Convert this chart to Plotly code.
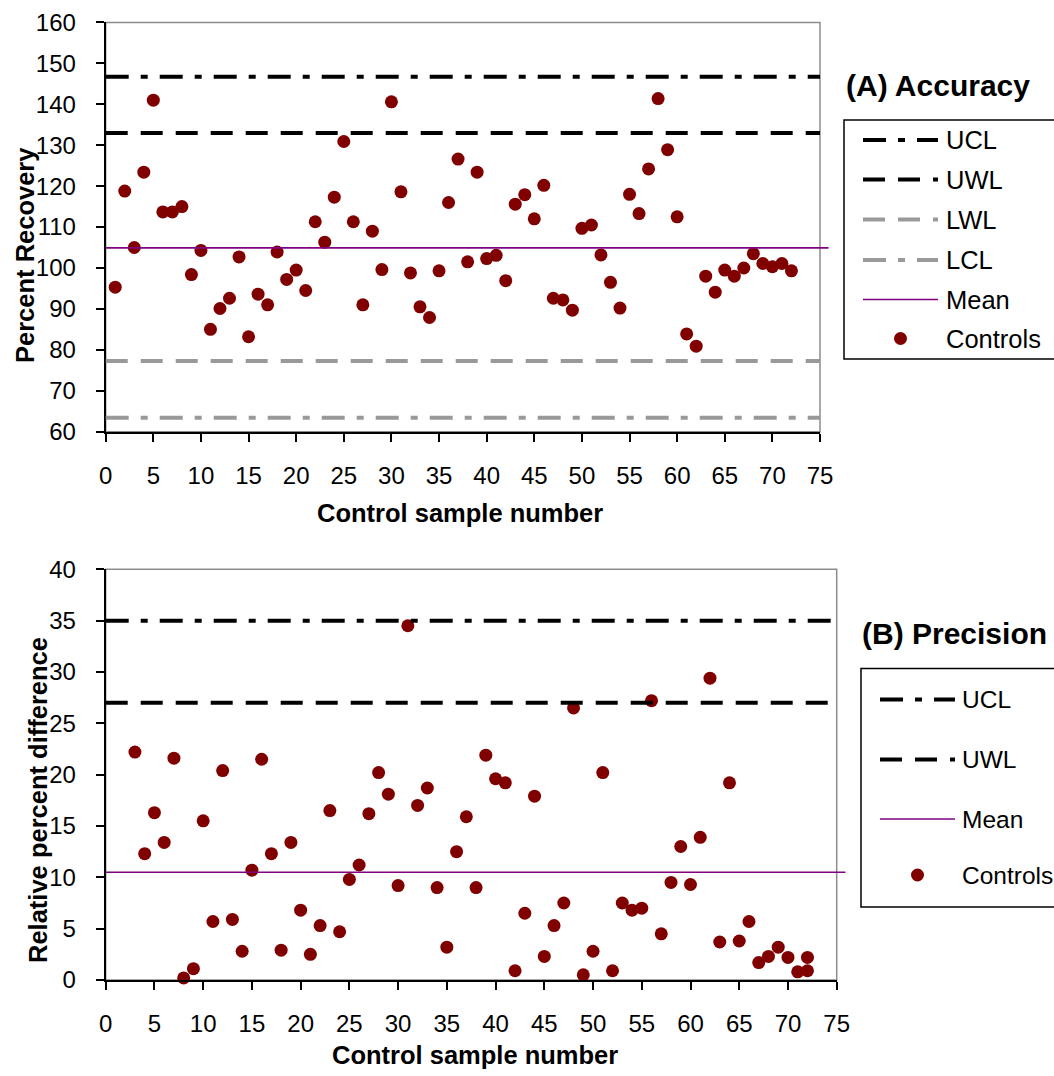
import plotly.graph_objects as go

# ---------------- data ----------------
# (A) Accuracy: percent recovery of each control sample
acc_sample = list(range(1, 73))
acc_recovery = [95.3, 118.8, 105.0, 123.4, 141.0, 113.7, 113.7, 115.0, 98.4, 104.3,
                85.0, 90.1, 92.6, 102.7, 83.2, 93.6, 91.0, 103.9, 97.2, 99.5,
                94.5, 111.3, 106.3, 117.3, 130.9, 111.3, 91.0, 109.0, 99.6, 140.6,
                118.6, 98.8, 90.5, 87.9, 99.3, 116.0, 126.6, 101.5, 123.4, 102.3,
                103.1, 96.9, 115.6, 117.9, 112.0, 120.2, 92.6, 92.2, 89.7, 109.7,
                110.5, 103.2, 96.5, 90.2, 118.0, 113.3, 124.2, 141.4, 128.9, 112.5,
                83.9, 80.9, 98.0, 94.1, 99.5, 98.0, 100.0, 103.5, 101.1, 100.3,
                101.1, 99.3]
acc_limit_names = ["UCL", "UWL", "LWL", "LCL"]
acc_limit_values = [146.7, 133.0, 77.3, 63.4]
acc_mean = 104.9

# (B) Precision: relative percent difference of each control sample
prec_sample = list(range(3, 73)) + [72]
prec_rpd = [22.2, 12.3, 16.3, 13.4, 21.6, 0.2, 1.1, 15.5, 5.7, 20.4,
            5.9, 2.8, 10.7, 21.5, 12.3, 2.9, 13.4, 6.8, 2.5, 5.3,
            16.5, 4.7, 9.8, 11.2, 16.2, 20.2, 18.1, 9.2, 34.5, 17.0,
            18.7, 9.0, 3.2, 12.5, 15.9, 9.0, 21.9, 19.6, 19.2, 0.9,
            6.5, 17.9, 2.3, 5.3, 7.5, 26.5, 0.5, 2.8, 20.2, 0.9,
            7.5, 6.8, 7.0, 27.2, 4.5, 9.5, 13.0, 9.3, 13.9, 29.4,
            3.7, 19.2, 3.8, 5.7, 1.7, 2.3, 3.2, 2.2, 0.8, 0.9,
            2.2]
prec_limit_names = ["UCL", "UWL"]
prec_limit_values = [35.0, 27.0]
prec_mean = 10.5

x_ticks = list(range(0, 80, 5))
acc_y_ticks = list(range(60, 170, 10))
prec_y_ticks = list(range(0, 45, 5))

# ---------------- styling ----------------
W, H = 1054, 1076
FONT = "Liberation Sans, Arial, sans-serif"
DOT_RED = "#800000"
MEAN_PURPLE = "#800080"
GREY = "#999999"
FRAME_GREY = "#8c8c8c"
DASHDOT = "23px,12px,7px,12px"
LONGDASH = "22px,13px"

limit_style = {
    "UCL": dict(color="black", dash=DASHDOT),
    "UWL": dict(color="black", dash=LONGDASH),
    "LWL": dict(color=GREY, dash=LONGDASH),
    "LCL": dict(color=GREY, dash=DASHDOT),
}


def px(x):
    return x / W


def py(y):
    return 1 - y / H


fig = go.Figure()

# control points
fig.add_trace(go.Scatter(x=acc_sample, y=acc_recovery, mode="markers", name="Controls",
                         marker=dict(color=DOT_RED, size=13, line=dict(width=0)),
                         xaxis="x", yaxis="y", cliponaxis=False))
fig.add_trace(go.Scatter(x=prec_sample, y=prec_rpd, mode="markers", name="Controls",
                         marker=dict(color=DOT_RED, size=13, line=dict(width=0)),
                         xaxis="x2", yaxis="y2", cliponaxis=False))

shapes = []
annotations = []

# control / warning limits and mean for each chart
for xr, yr, names, values, mean in [("x", "y", acc_limit_names, acc_limit_values, acc_mean),
                                    ("x2", "y2", prec_limit_names, prec_limit_values, prec_mean)]:
    for nm, v in zip(names, values):
        st = limit_style[nm]
        shapes.append(dict(type="line", xref=xr + " domain", yref=yr, x0=0, x1=1, y0=v, y1=v,
                           line=dict(color=st["color"], width=4, dash=st["dash"]), layer="above"))
    shapes.append(dict(type="line", xref=xr + " domain", yref=yr, x0=0, x1=1.012, y0=mean, y1=mean,
                       line=dict(color=MEAN_PURPLE, width=1.6), layer="above"))

# plot frames (grey top/right edges)
for xr, yr in [("x", "y"), ("x2", "y2")]:
    shapes.append(dict(type="rect", xref=xr + " domain", yref=yr + " domain", x0=0, x1=1, y0=0, y1=1,
                       line=dict(color=FRAME_GREY, width=1.5), layer="below"))

# legends
def add_legend(title, title_x, title_y, box, entries, line_x0, line_x1, text_x, text_size):
    annotations.append(dict(text="<b>%s</b>" % title, xref="paper", yref="paper",
                            x=px(title_x), y=py(title_y), xanchor="left", yanchor="middle",
                            showarrow=False, font=dict(size=30, family=FONT, color="black")))
    bx0, by0, bx1, by1 = box
    shapes.append(dict(type="rect", xref="paper", yref="paper", x0=px(bx0), x1=px(bx1),
                       y0=py(by0), y1=py(by1), line=dict(color="black", width=1.5),
                       fillcolor="white", layer="below"))
    for label, yc, kind in entries:
        if kind == "Controls":
            r = 6.5
            cx = (line_x0 + line_x1) / 2
            shapes.append(dict(type="circle", xref="paper", yref="paper",
                               x0=px(cx - r), x1=px(cx + r), y0=py(yc + r), y1=py(yc - r),
                               fillcolor=DOT_RED, line=dict(width=0)))
        elif kind == "Mean":
            shapes.append(dict(type="line", xref="paper", yref="paper", x0=px(line_x0), x1=px(line_x1),
                               y0=py(yc), y1=py(yc), line=dict(color=MEAN_PURPLE, width=1.6)))
        else:
            st = limit_style[kind]
            shapes.append(dict(type="line", xref="paper", yref="paper", x0=px(line_x0), x1=px(line_x1),
                               y0=py(yc), y1=py(yc), line=dict(color=st["color"], width=4, dash=st["dash"])))
        annotations.append(dict(text=label, xref="paper", yref="paper", x=px(text_x), y=py(yc),
                                xanchor="left", yanchor="middle", showarrow=False,
                                font=dict(size=text_size, family=FONT, color="black")))


acc_entries = [(n, y, n) for n, y in zip(acc_limit_names, [140, 179.5, 219.5, 260])] + \
              [("Mean", 299.5, "Mean"), ("Controls", 338.5, "Controls")]
add_legend("(A) Accuracy", 844, 85, (844, 120, 1070, 359), acc_entries, 863, 938, 944, 25.5)

prec_entries = [(n, y, n) for n, y in zip(prec_limit_names, [699.5, 759.5])] + \
               [("Mean", 819, "Mean"), ("Controls", 875, "Controls")]
add_legend("(B) Precision", 860, 633, (861, 668.5, 1070, 907), prec_entries, 880, 955, 960, 24.5)

# axis titles
for text, x, y, ang in [("Control sample number", 460, 513, 0),
                        ("Percent Recovery", 25, 255, -90),
                        ("Control sample number", 475, 1055, 0),
                        ("Relative percent difference", 38, 800, -90)]:
    annotations.append(dict(text="<b>%s</b>" % text, xref="paper", yref="paper", x=px(x), y=py(y),
                            xanchor="center", yanchor="middle", textangle=ang, showarrow=False,
                            font=dict(size=25.5, family=FONT, color="black")))

axis_common = dict(showgrid=False, zeroline=False, showline=True, linecolor="black", linewidth=2,
                   ticks="outside", ticklen=8, tickwidth=1.5, tickcolor="black",
                   tickfont=dict(size=24, family=FONT, color="black"))

fig.update_layout(
    width=W, height=H,
    margin=dict(l=0, r=0, t=0, b=0, autoexpand=False),
    paper_bgcolor="white", plot_bgcolor="white",
    showlegend=False,
    xaxis=dict(domain=[px(105.7), px(820)], range=[0, 75], tickvals=x_ticks,
               anchor="y", ticklabelstandoff=13, **axis_common),
    yaxis=dict(domain=[py(431.7), py(22.4)], range=[60, 160], tickvals=acc_y_ticks,
               anchor="x", ticklabelstandoff=15, **axis_common),
    xaxis2=dict(domain=[px(105.7), px(836.7)], range=[0, 75], tickvals=x_ticks,
                anchor="y2", ticklabelstandoff=13, **axis_common),
    yaxis2=dict(domain=[py(980), py(569.3)], range=[0, 40], tickvals=prec_y_ticks,
                anchor="x2", ticklabelstandoff=15, **axis_common),
    shapes=shapes,
    annotations=annotations,
)

fig.write_html("out.html")
